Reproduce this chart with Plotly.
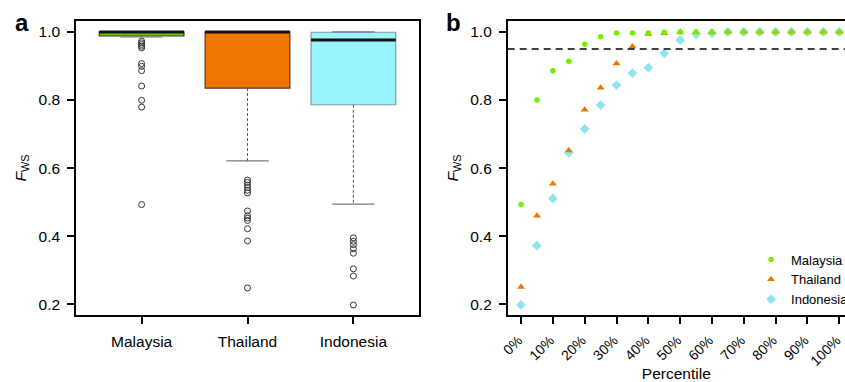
import plotly.graph_objects as go

# ---------------- Panel a: box plot summary ----------------
categories = ["Malaysia", "Thailand", "Indonesia"]
q1 = [0.988, 0.835, 0.786]
median = [1.0, 1.0, 0.976]
q3 = [1.0, 1.0, 0.999]
lower_whisker = [0.985, 0.621, 0.494]
upper_whisker = [1.0, 1.0, 1.0]
outliers_malaysia = [0.973, 0.968, 0.963, 0.958, 0.953, 0.907, 0.899, 0.886, 0.841, 0.799, 0.779, 0.493]
outliers_thailand = [0.565, 0.558, 0.550, 0.543, 0.535, 0.527, 0.474, 0.460, 0.453, 0.446, 0.422, 0.386, 0.248]
outliers_indonesia = [0.395, 0.385, 0.375, 0.363, 0.350, 0.304, 0.283, 0.198]

# ---------------- Panel b: percentiles ----------------
percentiles = [0, 5, 10, 15, 20, 25, 30, 35, 40, 45, 50, 55, 60, 65, 70, 75, 80, 85, 90, 95, 100]
malaysia_pct = [0.493, 0.800, 0.886, 0.914, 0.964, 0.986, 0.997, 0.997, 0.997, 0.999, 1.0,
                1.0, 1.0, 1.0, 1.0, 1.0, 1.0, 1.0, 1.0, 1.0, 1.0]
thailand_pct = [0.251, 0.460, 0.554, 0.652, 0.771, 0.836, 0.907, 0.957, 0.994, 0.996, 1.0,
                1.0, 1.0, 1.0, 1.0, 1.0, 1.0, 1.0, 1.0, 1.0, 1.0]
indonesia_pct = [0.198, 0.372, 0.511, 0.645, 0.715, 0.785, 0.844, 0.879, 0.895, 0.937, 0.976,
                 0.993, 0.996, 1.0, 1.0, 1.0, 1.0, 1.0, 1.0, 1.0, 1.0]
threshold = 0.95
pct_tickvals = [0, 10, 20, 30, 40, 50, 60, 70, 80, 90, 100]
pct_ticktext = ["0%", "10%", "20%", "30%", "40%", "50%", "60%", "70%", "80%", "90%", "100%"]
y_tickvals = [0.2, 0.4, 0.6, 0.8, 1.0]
y_ticktext = ["0.2", "0.4", "0.6", "0.8", "1.0"]

box_fill = ["#66CD00", "#EE7600", "#98F5FF"]
box_border = ["#3a3a3a", "#5a3410", "#7f9da3"]
pt_colors = {"Malaysia": "#76EE00", "Thailand": "#EE7600", "Indonesia": "#8EE5EE"}

FONT = "Liberation Sans, Arial, Helvetica, sans-serif"
fig = go.Figure()

pos = [1, 2, 3]
BOXW = 0.8
# boxes
fig.add_trace(go.Bar(
    x=pos, y=[b - a for a, b in zip(q1, q3)], base=q1, width=BOXW,
    marker=dict(color=box_fill, line=dict(color=box_border, width=1.2)),
    xaxis="x", yaxis="y", showlegend=False, hoverinfo="skip"))

# whiskers (dashed)
wx, wy = [], []
for p, a, lo, b, hi in zip(pos, q1, lower_whisker, q3, upper_whisker):
    wx += [p, p, None, p, p, None]
    wy += [a, lo, None, b, hi, None]
fig.add_trace(go.Scatter(x=wx, y=wy, mode="lines", line=dict(color="#555555", width=1, dash="3px,2px"),
                         xaxis="x", yaxis="y", showlegend=False, hoverinfo="skip"))
# caps
cx, cy = [], []
for p, lo, hi in zip(pos, lower_whisker, upper_whisker):
    cx += [p - BOXW / 4, p + BOXW / 4, None, p - BOXW / 4, p + BOXW / 4, None]
    cy += [lo, lo, None, hi, hi, None]
fig.add_trace(go.Scatter(x=cx, y=cy, mode="lines", line=dict(color="#777777", width=1.2),
                         xaxis="x", yaxis="y", showlegend=False, hoverinfo="skip"))
# medians
mx, my = [], []
for p, m in zip(pos, median):
    mx += [p - BOXW / 2, p + BOXW / 2, None]
    my += [m, m, None]
fig.add_trace(go.Scatter(x=mx, y=my, mode="lines", line=dict(color="#111111", width=3),
                         xaxis="x", yaxis="y", showlegend=False, hoverinfo="skip"))
# outliers
for p, outs in zip(pos, [outliers_malaysia, outliers_thailand, outliers_indonesia]):
    fig.add_trace(go.Scatter(x=[p] * len(outs), y=outs, mode="markers",
                             marker=dict(symbol="circle-open", size=6, color="#333333", line=dict(width=1)),
                             xaxis="x", yaxis="y", showlegend=False, hoverinfo="skip"))

# panel b points (drawn Indonesia first so Malaysia sits on top)
fig.add_trace(go.Scatter(x=percentiles, y=indonesia_pct, mode="markers", name="Indonesia",
                         marker=dict(symbol="diamond", size=7.5, color=pt_colors["Indonesia"]),
                         xaxis="x2", yaxis="y2", legendrank=3))
fig.add_trace(go.Scatter(x=percentiles, y=thailand_pct, mode="markers", name="Thailand",
                         marker=dict(symbol="triangle-up", size=7, color=pt_colors["Thailand"]),
                         xaxis="x2", yaxis="y2", legendrank=2))
fig.add_trace(go.Scatter(x=percentiles, y=malaysia_pct, mode="markers", name="Malaysia",
                         marker=dict(symbol="circle", size=5.5, color=pt_colors["Malaysia"]),
                         xaxis="x2", yaxis="y2", legendrank=1))

fig.add_shape(type="line", xref="x2 domain", yref="y2", x0=0, x1=1, y0=threshold, y1=threshold,
              line=dict(color="black", width=1.5, dash="7px,5px"))

axis_common = dict(showgrid=False, zeroline=False, showline=True, linecolor="black", linewidth=1.5,
                   ticks="outside", ticklen=7, tickwidth=1.5, tickcolor="black",
                   ticklabeloverflow="allow")
TICKFONT = dict(family=FONT, size=15.5, color="black")
YDOM = [0.175, 0.945]
YRANGE = [0.168, 1.032]

fig.update_layout(
    width=845, height=382, margin=dict(l=0, r=0, t=0, b=0, autoexpand=False),
    paper_bgcolor="white", plot_bgcolor="white",
    font=dict(family=FONT, color="black"),
    barmode="overlay",
    xaxis=dict(domain=[0.0899, 0.4959], range=[0.38, 3.62], tickvals=pos, ticktext=categories,
               mirror=True, ticklabelstandoff=4, automargin=False, tickfont=TICKFONT, **axis_common),
    yaxis=dict(domain=YDOM, range=YRANGE, tickvals=y_tickvals, ticktext=y_ticktext, mirror=True,
               ticklabelstandoff=4, automargin=False, tickfont=TICKFONT,
               title=dict(text="<i>F</i><sub>WS</sub>", font=dict(family=FONT, size=15.5), standoff=8),
               **axis_common),
    xaxis2=dict(domain=[0.6008, 1.0], range=[-4.2, 101.8], tickvals=pct_tickvals,
                ticktext=[t + "\u00a0" for t in pct_ticktext],
                tickfont=dict(family=FONT, size=14, color="black"),
                tickangle=-45, mirror=True, anchor="y2", automargin=False,
                title=dict(text="Percentile", font=dict(family=FONT, size=15.5), standoff=6),
                **axis_common),
    yaxis2=dict(domain=YDOM, range=YRANGE, tickvals=y_tickvals, ticktext=y_ticktext, anchor="x2",
                ticklabelstandoff=4, automargin=False, tickfont=TICKFONT,
                title=dict(text="<i>F</i><sub>WS</sub>", font=dict(family=FONT, size=15.5), standoff=8),
                **axis_common),
    legend=dict(x=0.8888, y=0.36, xanchor="left", yanchor="top", bgcolor="rgba(0,0,0,0)",
                font=dict(family=FONT, size=13, color="black"), itemwidth=30, tracegroupgap=0),
    showlegend=True,
    annotations=[
        dict(text="<b>a</b>", x=0.015, y=0.942, xref="paper", yref="paper", xanchor="left", yanchor="middle",
             showarrow=False, font=dict(family=FONT, size=24, color="black")),
        dict(text="<b>b</b>", x=0.526, y=0.942, xref="paper", yref="paper", xanchor="left", yanchor="middle",
             showarrow=False, font=dict(family=FONT, size=24, color="black")),
    ],
)

fig.write_html("out.html")
